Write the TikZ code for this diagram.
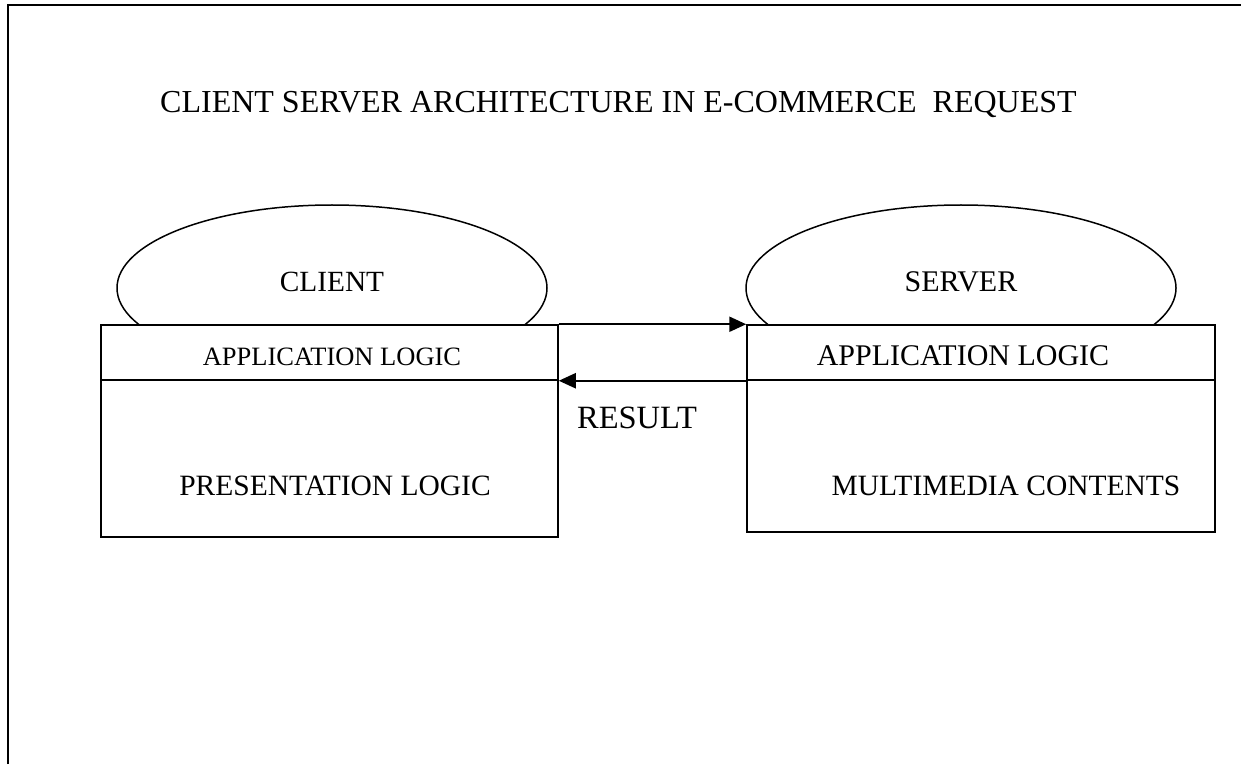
\documentclass[tikz,border=0pt]{standalone}
\usepackage{fontspec}
\setmainfont{Liberation Serif}
\usetikzlibrary{shapes.geometric,arrows.meta}
\begin{document}
\begin{tikzpicture}[x=1pt,y=1pt,
  lbl/.style={anchor=base,inner sep=0pt,font=\fontsize{28.5}{30}\selectfont},
  fs/.style={font=\fontsize{#1}{#1}\selectfont},
  oval/.style={draw,ellipse,line width=1.5pt,minimum width=430pt,minimum height=166pt,inner sep=0pt},
  cell/.style={draw,fill=white,rectangle,line width=1.5pt,inner sep=0pt},
  arr/.style={line width=2.2pt,-{Triangle[length=17pt,width=15pt]}}]
\useasboundingbox (0,0) rectangle (1241,764);
% page border
\draw[line width=2pt] (8,0) -- (8,759) -- (1241,759);
% title
\node[lbl,fs=32,anchor=base west] (title) at (160,651) {CLIENT SERVER ARCHITECTURE IN E-COMMERCE\ \ REQUEST};
% ovals
\node[oval] (clientoval) at (332,476) {};
\node[oval] (serveroval) at (961,476) {};
% client boxes
\node[cell,minimum width=457pt,minimum height=55pt] (capp) at (329.5,411.5) {};
\node[cell,minimum width=457pt,minimum height=157pt] (cpres) at (329.5,305.5) {};
% server boxes
\node[cell,minimum width=468pt,minimum height=55pt] (sapp) at (981,411.5) {};
\node[cell,minimum width=468pt,minimum height=152pt] (smm) at (981,308) {};
% labels
\node[lbl,fs=29.3] (clientlbl) at (332,472) {CLIENT};
\node[lbl,fs=30] (serverlbl) at (961,472) {SERVER};
\node[lbl,fs=26.5] (cappl) at (332,399) {APPLICATION LOGIC};
\node[lbl,fs=30] (sappl) at (963,399) {APPLICATION LOGIC};
\node[lbl,fs=32.5] (result) at (637,336) {RESULT};
\node[lbl,fs=29.5] (cpresl) at (335,269) {PRESENTATION LOGIC};
\node[lbl,fs=29.5] (smml) at (1006,269) {MULTIMEDIA CONTENTS};
% arrows
\draw[arr] (capp.north east) -- (sapp.north west);
\draw[arr] (sapp.south west) -- (capp.south east);
\end{tikzpicture}
\end{document}
